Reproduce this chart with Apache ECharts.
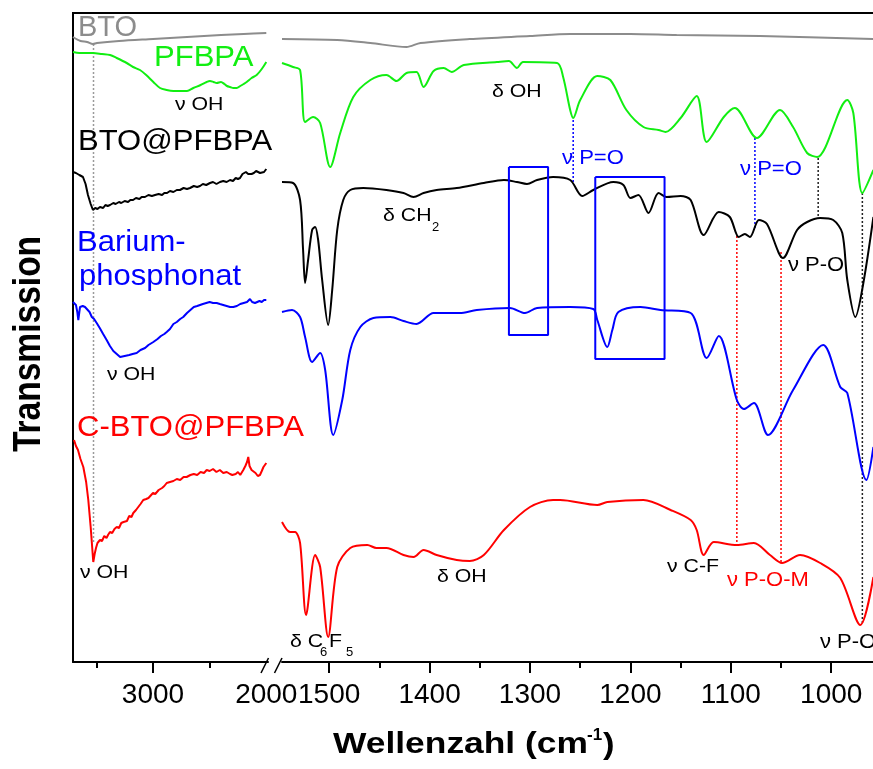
<!DOCTYPE html>
<html><head><meta charset="utf-8">
<script src="https://cdn.jsdelivr.net/npm/echarts@6/dist/echarts.min.js"></script>
<style>html,body{margin:0;padding:0;background:#fff}#c{width:873px;height:769px}</style>
</head><body><div id="c"></div>
<script>
// ---- Data (wavenumber cm^-1, transmission a.u. with vertical offsets) ----
const btoLeft = [[3706,625],[3640,621],[3582,620],[3530,618],[3495,619],[3300,621],[3000,623],[2700,625],[2400,627],[2200,628],[2000,629]];
const btoRight = [[1547,623],[1492,622],[1459,619],[1423,615],[1409,619],[1360,623],[1300,626],[1260,628],[1200,628],[1154,627],[1071,626],[958,623]];

const pfbpaLeft = [[3706,610],[3650,609],[3600,609],[3530,609],[3450,608],[3379,607],[3320,604],[3232,599],[3176,595],[3115,592],[3060,587],[2997,580],[2938,574],[2880,572],[2820,571],[2760,571],[2700,571],[2644,574],[2580,577],[2526,580],[2497,581],[2465,580],[2438,579],[2400,580],[2370,578],[2347,576],[2320,575],[2290,574],[2261,574],[2230,576],[2200,578],[2173,580],[2130,584],[2085,587],[2040,593],[2000,600]];
const pfbpaRight = [[1547,599],[1536,595],[1529,592],[1524,540],[1516,545],[1509,539],[1499,495],[1489,529],[1476,565],[1459,582],[1443,587],[1433,581],[1423,589],[1413,590],[1406,575],[1396,591],[1386,594],[1378,590],[1366,597],[1333,600],[1321,601],[1313,594],[1307,600],[1273,599],[1267,585],[1260,552],[1257,544],[1250,562],[1233,586],[1220,582],[1204,552],[1187,535],[1172,532],[1165,530],[1150,544],[1134,566],[1124,520],[1107,545],[1096,554],[1074,524],[1051,552],[1038,535],[1024,509],[1014,505],[984,562],[978,549],[969,469],[958,492]];

const btoPfbpaLeft = [[3706,490],[3680,489],[3650,487],[3618,485],[3595,478],[3574,467],[3550,458],[3530,452],[3510,454],[3490,453],[3468,455],[3440,454],[3420,457],[3400,456],[3379,457],[3350,459],[3330,458],[3300,460],[3280,459],[3250,461],[3220,460],[3200,462],[3176,462],[3150,464],[3120,463],[3100,465],[3071,465],[3040,467],[3010,466],[2982,467],[2950,468],[2920,467],[2900,469],[2876,469],[2850,471],[2820,470],[2790,472],[2762,472],[2730,474],[2700,473],[2673,474],[2640,476],[2610,475],[2585,476],[2560,478],[2530,477],[2497,479],[2470,480],[2440,478],[2409,480],[2380,481],[2350,480],[2320,482],[2294,481],[2270,484],[2250,483],[2232,484],[2210,488],[2195,486],[2180,490],[2160,488],[2144,490],[2130,488],[2110,489],[2090,491],[2073,490],[2055,489],[2038,491],[2020,490],[2000,493]];
const btoPfbpaRight = [[1547,480],[1536,479],[1529,462],[1526,412],[1524,379],[1521,402],[1517,432],[1514,435],[1511,422],[1507,382],[1501,337],[1497,372],[1492,432],[1486,462],[1479,472],[1466,474],[1443,472],[1426,469],[1416,465],[1406,469],[1393,472],[1373,474],[1346,479],[1326,482],[1313,480],[1303,478],[1293,482],[1277,485],[1260,482],[1248,466],[1237,472],[1217,480],[1207,477],[1200,464],[1192,467],[1182,449],[1172,469],[1164,465],[1150,466],[1140,462],[1127,427],[1112,450],[1101,445],[1092,425],[1086,428],[1081,425],[1072,442],[1064,438],[1048,404],[1034,432],[1024,440],[1011,444],[998,442],[989,429],[984,382],[976,345],[968,379],[958,445]];

const bariumLeft = [[3706,360],[3690,358],[3680,357],[3668,350],[3659,342],[3650,350],[3644,355],[3620,356],[3600,355],[3585,354],[3560,350],[3540,345],[3520,343],[3497,339],[3470,334],[3440,328],[3409,322],[3380,316],[3350,311],[3320,308],[3290,305],[3276,305],[3250,306],[3210,307],[3180,308],[3144,309],[3110,312],[3070,314],[3040,317],[2997,320],[2960,323],[2930,326],[2900,328],[2879,330],[2850,333],[2820,338],[2790,340],[2760,343],[2733,345],[2700,349],[2670,352],[2640,355],[2610,356],[2585,357],[2560,358],[2530,359],[2500,360],[2470,359],[2438,359],[2410,358],[2380,357],[2350,356],[2320,355],[2291,355],[2260,356],[2230,358],[2200,359],[2170,360],[2144,363],[2125,360],[2100,359],[2085,359],[2060,361],[2040,360],[2020,362],[2000,362]];
const bariumRight = [[1547,350],[1537,352],[1529,345],[1524,325],[1517,300],[1509,309],[1504,292],[1496,227],[1487,262],[1479,312],[1469,335],[1456,344],[1439,345],[1426,341],[1413,338],[1396,349],[1370,349],[1353,352],[1320,354],[1305,349],[1293,354],[1260,355],[1237,353],[1233,342],[1223,315],[1218,332],[1212,350],[1190,355],[1170,352],[1140,349],[1124,304],[1112,326],[1094,262],[1087,253],[1077,259],[1063,227],[1038,272],[1008,317],[991,275],[984,269],[965,182],[958,215]];

const cBtoLeft = [[3697,222],[3680,216],[3662,212],[3640,203],[3615,195],[3590,180],[3571,162],[3550,135],[3527,100],[3515,108],[3503,114],[3490,119],[3468,122],[3450,121],[3430,126],[3410,124],[3397,127],[3380,130],[3360,129],[3340,133],[3320,135],[3300,134],[3280,139],[3260,140],[3247,142],[3230,141],[3210,146],[3190,145],[3174,149],[3150,152],[3130,155],[3110,158],[3086,162],[3060,163],[3040,164],[3026,166],[3000,169],[2980,168],[2950,172],[2920,174],[2900,176],[2879,179],[2850,180],[2820,181],[2790,183],[2760,182],[2730,185],[2703,185],[2670,187],[2640,188],[2610,187],[2580,190],[2550,189],[2526,192],[2500,191],[2470,193],[2440,190],[2410,192],[2380,189],[2349,190],[2320,188],[2300,187],[2291,185],[2270,188],[2250,190],[2230,187],[2203,192],[2185,196],[2170,200],[2159,205],[2148,196],[2130,192],[2115,190],[2095,189],[2075,186],[2056,187],[2040,191],[2025,195],[2010,197],[2000,199]];
const cBtoRight = [[1547,140],[1539,130],[1534,130],[1529,119],[1523,47],[1514,107],[1509,95],[1501,25],[1492,95],[1479,114],[1462,117],[1453,114],[1443,114],[1426,107],[1416,105],[1406,112],[1393,107],[1373,102],[1360,101],[1346,107],[1326,132],[1300,155],[1277,162],[1270,162],[1233,157],[1223,160],[1187,162],[1160,152],[1140,142],[1134,132],[1127,107],[1117,120],[1094,117],[1077,119],[1061,107],[1049,99],[1031,107],[1011,99],[991,84],[971,37],[958,85]];

// assignment guide lines (dotted) and highlight boxes
const guideOH = [[3525,618],[3525,119]];
const guidePO1 = [[1257,542],[1257,480]];
const guidePO2 = [[1076,524],[1076,432]];
const guidePOa = [[1013,504],[1013,444]];
const guidePOb = [[969,469],[969,39]];
const guidePOM1 = [[1094,426],[1094,117]];
const guidePOM2 = [[1050,410],[1050,99]];
const box1 = [[1321,495],[1282,495],[1282,327],[1321,327],[1321,495]];
const box2 = [[1235,485],[1166,485],[1166,303],[1235,303],[1235,485]];

// ticks
const leftMajorTicks = [3000];
const leftLabels = [3000, 2000];
const leftMinorTicks = [3500, 2500];
const rightMajorTicks = [1500, 1400, 1300, 1200, 1100, 1000];
const rightMinorTicks = [1450, 1350, 1250, 1150, 1050];

const FONT = '"Liberation Sans", Arial, sans-serif';
const GRAY = '#8c8c8c', GREEN = '#11ee11', BLUE = '#0000ff', RED = '#ff0000', BLACK = '#000000';
const plain = v => String(Math.round(v));

function spec(data, color, side, smooth) {
  const L = side === 'L';
  return {type:'line', data, xAxisIndex: L ? 0 : 2, yAxisIndex: L ? 0 : 1,
    symbol:'none', smooth: smooth, lineStyle:{color, width:2}, silent:true, z:3, animation:false};
}
function guide(data, color, side) {
  const L = side === 'L';
  return {type:'line', data, xAxisIndex: L ? 0 : 2, yAxisIndex: L ? 0 : 1,
    symbol:'none', lineStyle:{color, width:1.5, type:[2,2]}, silent:true, z:2, animation:false};
}
function boxS(data) {
  return {type:'line', data, xAxisIndex:2, yAxisIndex:1, symbol:'none',
    lineStyle:{color:BLUE, width:2}, silent:true, z:4, animation:false};
}
function T(text, x, y, size, color, opt) {
  opt = opt || {};
  return {type:'text', x, y, scaleX: opt.sx || 1, rotation: opt.rot || 0, silent:true, z:100,
    style:{text, font: (opt.bold ? 'bold ' : '') + size + 'px ' + FONT, fill: color,
      align: opt.align || 'left', verticalAlign:'middle',
      textAlign: opt.align || 'left', textVerticalAlign:'middle'}};
}

const S = 1.07, A = 1.12;
const texts = [
  T('BTO', 78, 28, 29, GRAY),
  T('PFBPA', 154, 58, 29, GREEN, {sx:S}),
  T('BTO@PFBPA', 78, 142, 29, BLACK, {sx:S}),
  T('Barium-', 77, 243, 29, BLUE, {sx:S}),
  T('phosphonat', 79, 277, 29, BLUE, {sx:S}),
  T('C-BTO@PFBPA', 77, 428, 29, RED, {sx:S}),
  T('\u03bd OH', 175, 105, 19, BLACK, {sx:A}),
  T('\u03b4 OH', 492, 92, 19, BLACK, {sx:A}),
  T('\u03b4 CH', 383, 216, 19, BLACK, {sx:A}),
  T('2', 432, 227, 13, BLACK),
  T('\u03bd P=O', 562, 158, 21, BLUE, {sx:1.05}),
  T('\u03bd P=O', 740, 169, 21, BLUE, {sx:1.05}),
  T('\u03bd P-O', 788, 265, 20, BLACK, {sx:1.1}),
  T('\u03bd OH', 107, 375, 19, BLACK, {sx:A}),
  T('\u03bd OH', 80, 573, 19, BLACK, {sx:A}),
  T('\u03b4 C', 290, 642, 19, BLACK, {sx:A}),
  T('6', 320, 652, 13, BLACK),
  T('F', 329, 642, 19, BLACK, {sx:A}),
  T('5', 346, 652, 13, BLACK),
  T('\u03b4 OH', 437, 577, 19, BLACK, {sx:A}),
  T('\u03bd C-F', 667, 567, 19, BLACK, {sx:A}),
  T('\u03bd P-O-M', 727, 580, 20, RED, {sx:1.1}),
  T('\u03bd P-O', 820, 642, 20, BLACK, {sx:1.1}),
  T('Wellenzahl (cm', 333, 745, 29, BLACK, {bold:true, sx:1.22}),
  T('-1', 587, 735, 17, BLACK, {bold:true}),
  T(')', 603, 746, 29, BLACK, {bold:true, sx:1.19}),
  T('Transmission', 29, 344, 39, BLACK, {bold:true, sx:0.86, rot:Math.PI/2, align:'center'})
];
const frame = [
  {type:'line', shape:{x1:72, y1:13, x2:873, y2:13}, style:{stroke:'#000', lineWidth:2}, silent:true},
  {type:'line', shape:{x1:261, y1:673, x2:268.5, y2:658}, style:{stroke:'#000', lineWidth:1.5}, silent:true},
  {type:'line', shape:{x1:274.5, y1:673, x2:282, y2:658}, style:{stroke:'#000', lineWidth:1.5}, silent:true}
];

const axisLineStyle = {color:'#000', width:2};
const chart = echarts.init(document.getElementById('c'), null, {renderer:'canvas'});
chart.setOption({
  animation:false,
  backgroundColor:'#fff',
  grid:[
    {left:73, top:13, width:195, height:649},
    {left:282, top:13, width:591, height:649}
  ],
  xAxis:[
    {gridIndex:0, type:'value', min:1985, max:3706, inverse:true, position:'bottom',
     axisLine:{lineStyle:axisLineStyle}, splitLine:{show:false},
     axisTick:{customValues:leftMajorTicks, length:11, lineStyle:{color:'#000', width:2}},
     axisLabel:{customValues:leftLabels, formatter:plain, fontSize:28, color:'#000', fontFamily:FONT, margin:19}},
    {gridIndex:0, type:'value', min:1985, max:3706, inverse:true, position:'bottom',
     axisLine:{show:false}, splitLine:{show:false},
     axisTick:{customValues:leftMinorTicks, length:6, lineStyle:{color:'#000', width:2}},
     axisLabel:{show:false}},
    {gridIndex:1, type:'value', min:958.4, max:1547, inverse:true, position:'bottom',
     axisLine:{lineStyle:axisLineStyle}, splitLine:{show:false},
     axisTick:{customValues:rightMajorTicks, length:11, lineStyle:{color:'#000', width:2}},
     axisLabel:{customValues:rightMajorTicks, formatter:plain, fontSize:28, color:'#000', fontFamily:FONT, margin:19}},
    {gridIndex:1, type:'value', min:958.4, max:1547, inverse:true, position:'bottom',
     axisLine:{show:false}, splitLine:{show:false},
     axisTick:{customValues:rightMinorTicks, length:6, lineStyle:{color:'#000', width:2}},
     axisLabel:{show:false}}
  ],
  yAxis:[
    {gridIndex:0, type:'value', min:0, max:649, axisLine:{show:true, lineStyle:axisLineStyle},
     axisTick:{show:false}, axisLabel:{show:false}, splitLine:{show:false}},
    {gridIndex:1, type:'value', min:0, max:649, show:false}
  ],
  series:[
    guide(guideOH, '#9a9a9a', 'L'),
    guide(guidePO1, BLUE, 'R'),
    guide(guidePO2, BLUE, 'R'),
    guide(guidePOa, '#222', 'R'),
    guide(guidePOb, '#222', 'R'),
    guide(guidePOM1, RED, 'R'),
    guide(guidePOM2, RED, 'R'),
    spec(btoLeft, GRAY, 'L', 0.3), spec(btoRight, GRAY, 'R', 0.3),
    spec(pfbpaLeft, GREEN, 'L', 0.3), spec(pfbpaRight, GREEN, 'R', 0.3),
    spec(btoPfbpaLeft, BLACK, 'L', false), spec(btoPfbpaRight, BLACK, 'R', 0.3),
    spec(bariumLeft, BLUE, 'L', false), spec(bariumRight, BLUE, 'R', 0.3),
    spec(cBtoLeft, RED, 'L', false), spec(cBtoRight, RED, 'R', 0.3),
    boxS(box1), boxS(box2)
  ],
  graphic:{elements: frame.concat(texts)}
});
</script>
</body></html>
